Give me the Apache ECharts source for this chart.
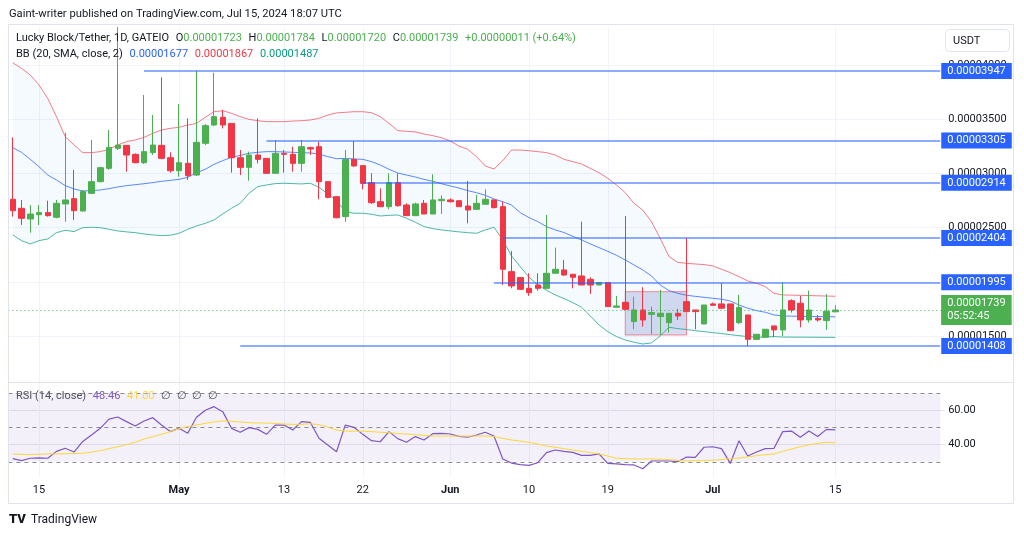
<!DOCTYPE html>
<html><head><meta charset="utf-8">
<script src="https://cdn.jsdelivr.net/npm/echarts@6/dist/echarts.min.js"></script>
<style>html,body{margin:0;padding:0;background:#fff}#c{width:1024px;height:536px}</style>
</head><body><div id="c"></div>
<script>
// Prices are stored in units of 0.00000001 USDT
const UNIT = 1e-8;
const startDate = Date.UTC(2024, 3, 12);   // first candle: 2024-04-12
const totalDays = 107;                       // 95 candles + empty right margin

const opens = [2762,2679,2580,2620,2639,2596,2719,2768,2654,2817,
  2925,3048,3233,3260,3177,3100,3193,3260,3146,3026,
  3094,2986,3279,3448,3519,3463,3146,3057,3171,3140,
  3002,3186,3177,3094,3239,3248,2925,2786,2602,3131,
  3073,2916,2740,2694,2916,2709,2611,2725,2626,2749,
  2756,2749,2700,2669,2716,2756,2694,2094,2039,1940,
  1971,1940,2079,2110,2070,2054,2023,1971,1993,1765,
  1811,1633,1740,1700,1679,1623,1709,1817,1740,1611,
  1796,1796,1796,1623,1694,1469,1488,1593,1556,1826,
  1802,1648,1663,1642,1723];
const highs = [3334,2756,2709,2709,2749,2756,3377,3033,2848,3310,
  3063,3402,4350,3263,3186,3725,3540,3888,3196,3642,
  3510,3950,3457,3931,3587,3463,3217,3202,3510,3140,
  3310,3217,3248,3310,3248,3294,2930,2790,3217,3300,
  3073,3002,2863,3002,3002,2725,2731,2756,2993,2799,
  2771,2749,2931,2802,2854,2762,2741,2285,2039,2079,
  2079,2617,2316,2202,2070,2556,2042,1993,1993,1870,
  2608,1863,1950,1771,1925,1709,1750,2404,1740,1786,
  1808,1987,1796,1879,1694,1516,1562,1593,1993,1839,
  1870,1919,1694,1888,1784];
const lows = [2602,2525,2454,2525,2602,2586,2555,2571,2648,2811,
  2919,3033,3217,3017,3094,3088,3171,3131,3008,2971,
  2940,2977,3263,3439,3417,3008,2986,2934,3094,3002,
  3002,3008,3017,3017,3171,2762,2771,2586,2555,3063,
  2854,2719,2694,2669,2694,2611,2611,2626,2626,2626,
  2731,2694,2540,2669,2716,2679,1971,1940,1925,1870,
  1919,1934,2079,2054,1940,1971,1888,1971,1771,1765,
  1746,1562,1586,1519,1509,1531,1648,1725,1562,1611,
  1783,1750,1549,1611,1408,1469,1488,1488,1500,1716,
  1580,1623,1633,1556,1720];
const closes = [2657,2586,2626,2639,2611,2725,2756,2657,2833,2925,
  3054,3242,3263,3171,3100,3202,3263,3140,3026,3100,
  2980,3288,3442,3525,3448,3146,3057,3171,3131,3002,
  3186,3177,3094,3248,3227,2925,2780,2592,3131,3070,
  2909,2731,2694,2916,2703,2611,2719,2626,2756,2762,
  2740,2694,2663,2725,2762,2685,2116,1962,1931,1900,
  1940,2079,2116,2063,2042,1971,1971,1993,1771,1777,
  1746,1740,1648,1716,1710,1709,1685,1725,1725,1786,
  1783,1756,1549,1762,1469,1516,1562,1556,1740,1740,
  1648,1740,1648,1728,1739];

const bbUpper = [4024,3971,3910,3818,3694,3525,3340,3264,3193,3193,
  3202,3224,3264,3294,3310,3334,3371,3402,3417,3427,
  3448,3463,3519,3571,3580,3556,3525,3500,3488,3479,
  3479,3479,3485,3488,3494,3510,3540,3560,3565,3571,
  3571,3562,3525,3463,3396,3390,3384,3365,3350,3331,
  3300,3254,3224,3156,3070,3042,3119,3217,3217,3211,
  3202,3193,3171,3131,3110,3088,3048,3008,2956,2894,
  2823,2725,2663,2556,2400,2233,2180,2171,2165,2159,
  2147,2116,2085,2048,2008,1987,1956,1894,1879,1877,
  1875,1873,1871,1869,1867];
const bbBasis = [3239,3196,3131,3063,2986,2940,2888,2857,2839,2842,
  2848,2860,2876,2888,2897,2906,2916,2928,2937,2946,
  2965,3008,3039,3085,3119,3150,3168,3187,3196,3202,
  3202,3199,3196,3193,3190,3180,3156,3137,3140,3134,
  3131,3110,3079,3039,3005,2986,2968,2946,2928,2906,
  2885,2866,2842,2823,2799,2765,2740,2709,2639,2593,
  2556,2509,2479,2455,2420,2387,2350,2316,2282,2245,
  2202,2156,2110,2054,1971,1919,1894,1876,1866,1857,
  1848,1839,1823,1786,1756,1734,1719,1694,1685,1683,
  1681,1680,1679,1678,1677];
const bbLower = [2433,2380,2350,2380,2396,2454,2476,2464,2500,2504,
  2500,2485,2470,2461,2454,2442,2433,2427,2430,2448,
  2485,2516,2540,2571,2627,2679,2725,2818,2879,2894,
  2907,2910,2907,2904,2910,2873,2811,2750,2648,2633,
  2633,2624,2608,2614,2617,2587,2550,2510,2491,2479,
  2470,2461,2454,2448,2479,2504,2387,2239,2140,2042,
  1971,1922,1879,1845,1808,1765,1685,1602,1540,1494,
  1463,1442,1426,1436,1500,1580,1568,1559,1549,1540,
  1531,1522,1512,1503,1494,1488,1491,1494,1490,1489,
  1489,1488,1488,1487,1487];

const rsi = [31.8,30.6,32.0,32.2,32.0,36.0,37.8,35.6,41.8,45.5,
  49.4,54.8,56.0,53.3,50.8,53.7,55.6,51.3,47.5,49.4,
  46.5,55.8,59.9,62.0,59.1,49.4,47.1,49.8,48.8,45.9,
  51.3,51.3,48.4,53.3,52.9,43.6,39.7,35.8,51.3,50.0,
  45.9,42.2,41.6,47.5,43.4,41.3,44.6,42.6,46.3,46.5,
  46.1,44.7,44.2,45.5,47.1,44.9,31.6,29.2,28.3,27.9,
  29.4,35.3,36.8,36.0,35.4,33.7,33.7,34.5,29.0,28.7,
  28.3,28.1,25.9,30.4,30.4,30.4,30.0,32.7,32.5,38.4,
  38.7,37.6,29.0,42.2,33.3,35.6,37.6,37.8,47.5,47.8,
  44.2,47.8,44.6,48.8,48.46];
const rsiMA = [34.5,34.3,34.1,34.3,34.5,34.5,34.7,34.7,34.9,35.6,
  36.4,37.6,38.7,39.9,41.3,43.2,44.6,45.9,47.5,49.2,
  50.4,51.3,52.3,53.1,53.7,53.5,53.1,52.7,52.5,52.5,
  52.3,51.9,51.7,51.7,52.1,51.5,50.2,48.4,47.8,47.8,
  47.7,47.5,47.1,46.9,46.3,46.1,45.7,45.3,44.9,44.9,
  44.9,44.9,44.9,44.9,44.9,44.6,43.6,42.6,42.0,41.3,
  40.3,39.1,38.4,37.6,36.8,36.0,35.3,34.5,33.3,32.0,
  31.8,31.6,31.6,31.6,31.4,31.2,30.8,30.4,30.6,30.6,
  30.8,31.2,31.8,32.1,32.7,33.5,34.1,34.5,36.0,37.4,
  38.7,39.7,40.7,41.3,41.00];

const priceTicks = [1500, 2000, 2500, 3000, 3500, 4000];
const rsiTicks = [40, 60];
const rsiLevels = [70, 50, 30];
const dateTicks = {'2024-04-15':'15','2024-05-01':'May','2024-05-13':'13','2024-05-22':'22',
  '2024-06-01':'Jun','2024-06-10':'10','2024-06-19':'19','2024-07-01':'Jul','2024-07-15':'15'};
const levelValues = [3947, 3305, 2914, 2404, 1995, 1408];
const levelStarts = ['2024-04-27','2024-05-11','2024-05-22','2024-06-07','2024-06-06','2024-05-08'];
const zone = {from:'2024-06-21', to:'2024-06-28', top:1909, bottom:1509};
const countdown = '05:52:45';

// ---------- derived ----------
const cats = [];
for (let k = 0; k < totalDays; k++) cats.push(new Date(startDate + k * 86400000).toISOString().slice(0, 10));
const lastCat = cats[cats.length - 1];
const ohlc = opens.map((o, i) => [o, closes[i], lows[i], highs[i]]);
const N = closes.length;
const fmt = v => (v * UNIT).toFixed(8);
const FONT = 'Roboto, "Noto Sans", sans-serif';
const TXT = '#131722';
const GREEN = '#4caf50', RED = '#f23645', BLUE = '#2962ff', TEAL = '#089981';
const GRIDC = '#f0f3fa';

const lastClose = closes[N - 1], prevClose = closes[N - 2];
const chg = lastClose - prevClose;
const chgPct = (chg / prevClose * 100).toFixed(2);

const chart = echarts.init(document.getElementById('c'), null, {renderer: 'canvas', width: 1024, height: 536});

const option = {
  animation: false,
  backgroundColor: '#ffffff',
  textStyle: {fontFamily: FONT},
  grid: [
    {left: 8.375, top: 27, width: 936.25, height: 355},
    {left: 8.375, top: 383, width: 936.25, height: 94}
  ],
  xAxis: [
    {gridIndex: 0, type: 'category', data: cats, boundaryGap: true, show: false},
    {gridIndex: 1, type: 'category', data: cats, boundaryGap: true,
      axisLine: {show: false}, axisTick: {show: false}, splitLine: {show: false},
      axisLabel: {interval: (i, v) => v in dateTicks, margin: 8, color: TXT, fontSize: 11, fontFamily: FONT,
        formatter: v => { const t = dateTicks[v]; if (!t) return ''; return /[A-Za-z]/.test(t) ? '{m|' + t + '}' : t; },
        rich: {m: {fontWeight: 'bold', fontSize: 11, color: TXT, fontFamily: FONT}}}}
  ],
  yAxis: [
    {gridIndex: 0, type: 'value', min: 1075, max: 4353, show: false, position: 'right'},
    {gridIndex: 1, type: 'value', min: 21.1, max: 75.76, show: false, position: 'right'}
  ],
  series: [
    // main pane grid lines + price scale labels
    {type: 'line', name: 'priceGrid', xAxisIndex: 0, yAxisIndex: 0, data: [], silent: true,
      markLine: {z: 1, silent: true, symbol: ['none', 'none'], animation: false,
        lineStyle: {color: GRIDC, width: 1, type: 'solid'},
        data: priceTicks.map(v => ({yAxis: v, label: {show: true, position: 'end', distance: 3.5, formatter: fmt(v),
            color: TXT, fontSize: 11, fontFamily: FONT}}))
          .concat(Object.keys(dateTicks).map(d => ({xAxis: d, label: {show: false}})))
      }},
    // Bollinger background
    {type: 'custom', name: 'bbFill', xAxisIndex: 0, yAxisIndex: 0, data: [[0, bbBasis[0]]], silent: true, z: 1,
      renderItem: (params, api) => {
        const pts = [];
        for (let i = 0; i < bbUpper.length; i++) pts.push(api.coord([i, bbUpper[i]]));
        for (let i = bbLower.length - 1; i >= 0; i--) pts.push(api.coord([i, bbLower[i]]));
        return {type: 'polygon', shape: {points: pts}, style: {fill: 'rgba(33,150,243,0.05)'}};
      }},
    {type: 'line', name: 'BB upper', xAxisIndex: 0, yAxisIndex: 0, data: bbUpper, symbol: 'none', z: 2,
      lineStyle: {color: 'rgba(242,54,69,0.65)', width: 1}},
    {type: 'line', name: 'BB basis', xAxisIndex: 0, yAxisIndex: 0, data: bbBasis, symbol: 'none', z: 2,
      lineStyle: {color: 'rgba(41,98,255,0.75)', width: 1}},
    {type: 'line', name: 'BB lower', xAxisIndex: 0, yAxisIndex: 0, data: bbLower, symbol: 'none', z: 2,
      lineStyle: {color: 'rgba(8,153,129,0.7)', width: 1}},
    // zone rectangle
    {type: 'custom', name: 'zone', xAxisIndex: 0, yAxisIndex: 0, data: [[0, zone.top]], silent: true, z: 2,
      renderItem: (params, api) => {
        const a = api.coord([cats.indexOf(zone.from), zone.top]);
        const b = api.coord([cats.indexOf(zone.to), zone.bottom]);
        return {type: 'rect', shape: {x: a[0], y: a[1], width: b[0] - a[0], height: b[1] - a[1]},
          style: {fill: 'rgba(63,81,181,0.2)', stroke: 'rgba(242,54,69,0.55)', lineWidth: 1}};
      }},
    {type: 'candlestick', name: 'LBLOCK/USDT', xAxisIndex: 0, yAxisIndex: 0, data: ohlc, barWidth: 6, z: 4,
      itemStyle: {color: GREEN, color0: RED, borderColor: GREEN, borderColor0: RED, borderWidth: 1}},
    // drawn horizontal levels + last price
    {type: 'line', name: 'levels', xAxisIndex: 0, yAxisIndex: 0, data: [], silent: true,
      markLine: {z: 6, silent: true, symbol: ['none', 'none'], animation: false,
        data: levelValues.map((v, k) => [
          {coord: [levelStarts[k], v], lineStyle: {color: 'rgba(41,98,255,0.7)', width: 1.5, type: 'solid'},
            label: {show: true, position: 'end', distance: 1, formatter: fmt(v), color: '#ffffff',
              backgroundColor: BLUE, padding: [2, 6, 2, 6], fontSize: 11, lineHeight: 12, fontFamily: FONT}},
          {coord: [lastCat, v]}
        ]).concat([{yAxis: lastClose, lineStyle: {color: GREEN, width: 1, type: [1, 3]},
          label: {show: true, position: 'end', distance: -3.5, formatter: fmt(lastClose) + '\n' + countdown,
            color: '#ffffff', backgroundColor: GREEN, padding: [2, 6, 2, 6], fontSize: 11, lineHeight: 13, fontFamily: FONT}}])
      }},
    // RSI pane
    {type: 'custom', name: 'rsiBand', xAxisIndex: 1, yAxisIndex: 1, data: [[0, 50]], silent: true, z: 1,
      renderItem: (params, api) => {
        const cs = params.coordSys;
        const xr = api.coord([cats.length - 1, 50])[0];
        const yTop = api.coord([0, rsiLevels[0]])[1], yBot = api.coord([0, rsiLevels[2]])[1];
        const kids = [{type: 'rect', shape: {x: cs.x, y: yTop, width: xr - cs.x, height: yBot - yTop},
          style: {fill: 'rgba(126,87,194,0.09)'}}];
        rsiLevels.forEach(l => {
          const y = Math.round(api.coord([0, l])[1]) + 0.5;
          kids.push({type: 'line', shape: {x1: cs.x, y1: y, x2: xr, y2: y},
            style: {stroke: '#8a8d96', lineWidth: 1, lineDash: [4, 4]}});
        });
        return {type: 'group', children: kids};
      }},
    {type: 'line', name: 'rsiGrid', xAxisIndex: 1, yAxisIndex: 1, data: [], silent: true,
      markLine: {z: 1, silent: true, symbol: ['none', 'none'], animation: false,
        lineStyle: {color: 'rgba(200,200,215,0.45)', width: 1, type: 'solid'},
        data: rsiTicks.map(v => ({yAxis: v, label: {show: true, position: 'end', distance: 3.5, formatter: v.toFixed(2),
            color: TXT, fontSize: 11, fontFamily: FONT}}))
          .concat(Object.keys(dateTicks).map(d => ({xAxis: d, label: {show: false}, lineStyle: {color: GRIDC}})))
      }},
    {type: 'line', name: 'RSI', xAxisIndex: 1, yAxisIndex: 1, data: rsi, symbol: 'none', z: 3,
      lineStyle: {color: '#7e57c2', width: 1.2}},
    {type: 'line', name: 'RSI MA', xAxisIndex: 1, yAxisIndex: 1, data: rsiMA, symbol: 'none', z: 3,
      lineStyle: {color: '#fdd835', width: 1}}
  ],
  graphic: [
    {type: 'rect', silent: true, z: 50, shape: {x: 8.5, y: 24.5, width: 1005, height: 479},
      style: {fill: 'none', stroke: '#e0e3eb', lineWidth: 1}},
    {type: 'line', silent: true, z: 50, shape: {x1: 8.5, y1: 382.5, x2: 1013.5, y2: 382.5},
      style: {stroke: '#e0e3eb', lineWidth: 1}},
    {type: 'text', silent: true, z: 50, x: 9, y: 14,
      style: {text: 'Gaint-writer published on TradingView.com, Jul 15, 2024 18:07 UTC', fill: TXT,
        fontSize: 11.2, fontFamily: FONT, verticalAlign: 'middle', textVerticalAlign: 'middle'}},
    {type: 'text', silent: true, z: 50, x: 16, y: 38,
      style: {text: '{n|Lucky Block/Tether, 1D, GATEIO}  {k|O}{g|' + fmt(opens[N-1]) + '}  {k|H}{g|' + fmt(highs[N-1]) +
        '}  {k|L}{g|' + fmt(lows[N-1]) + '}  {k|C}{g|' + fmt(closes[N-1]) + '}  {g|' + (chg >= 0 ? '+' : '') + fmt(chg) +
        ' (' + (chg >= 0 ? '+' : '') + chgPct + '%)}',
        verticalAlign: 'middle', textVerticalAlign: 'middle',
        rich: {n: {fill: TXT, fontSize: 11, fontFamily: FONT}, k: {fill: TXT, fontSize: 11, fontFamily: FONT},
          g: {fill: GREEN, fontSize: 11, fontFamily: FONT}}}},
    {type: 'text', silent: true, z: 50, x: 16, y: 54,
      style: {text: '{n|BB (20, SMA, close, 2)}  {b|' + fmt(bbBasis[N-1]) + '}  {r|' + fmt(bbUpper[N-1]) + '}  {t|' + fmt(bbLower[N-1]) + '}',
        verticalAlign: 'middle', textVerticalAlign: 'middle',
        rich: {n: {fill: TXT, fontSize: 11, fontFamily: FONT}, b: {fill: BLUE, fontSize: 11, fontFamily: FONT},
          r: {fill: RED, fontSize: 11, fontFamily: FONT}, t: {fill: TEAL, fontSize: 11, fontFamily: FONT}}}},
    {type: 'rect', silent: true, z: 50, shape: {x: 945.5, y: 29.5, width: 64, height: 22, r: 4},
      style: {fill: '#ffffff', stroke: '#e0e3eb', lineWidth: 1}},
    {type: 'text', silent: true, z: 51, x: 953, y: 41,
      style: {text: 'USDT', fill: TXT, fontSize: 11, fontFamily: FONT, verticalAlign: 'middle', textVerticalAlign: 'middle'}},
    {type: 'text', silent: true, z: 50, x: 16, y: 396,
      style: {text: '{n|RSI (14, close)}  {p|' + rsi[N-1].toFixed(2) + '}  {y|' + rsiMA[N-1].toFixed(2) + '}  {d|∅  ∅  ∅  ∅}',
        verticalAlign: 'middle', textVerticalAlign: 'middle',
        rich: {n: {fill: '#50535e', fontSize: 11, fontFamily: FONT}, p: {fill: '#7e57c2', fontSize: 11, fontFamily: FONT},
          y: {fill: '#fdd835', fontSize: 11, fontFamily: FONT}, d: {fill: '#50535e', fontSize: 11, fontFamily: FONT}}}},
    {type: 'text', silent: true, z: 50, x: 9, y: 520,
      style: {text: 'TV', fill: TXT, fontSize: 13, fontWeight: 900, fontFamily: FONT, verticalAlign: 'middle', textVerticalAlign: 'middle'}},
    {type: 'text', silent: true, z: 50, x: 31, y: 520,
      style: {text: 'TradingView', fill: TXT, fontSize: 12, fontFamily: FONT, verticalAlign: 'middle', textVerticalAlign: 'middle'}}
  ]
};
chart.setOption(option);
</script>
</body></html>
